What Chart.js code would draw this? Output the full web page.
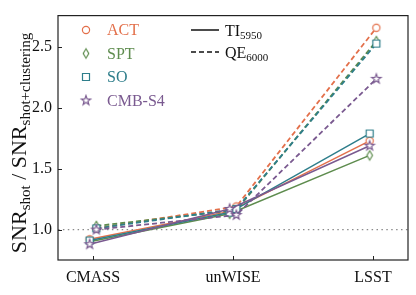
<!DOCTYPE html>
<html><head><meta charset="utf-8">
<script src="https://cdn.jsdelivr.net/npm/chart.js@4/dist/chart.umd.min.js"></script>
<style>html,body{margin:0;padding:0;background:#fff}#wrap{width:416px;height:295px}</style>
</head><body><div id="wrap"><canvas id="c" width="416" height="295"></canvas></div>
<script>
// ---- data ----
const categories = ['CMASS', 'unWISE', 'LSST'];
const experiments = ['ACT', 'SPT', 'SO', 'CMB-S4'];
const actTI = [0.92, 1.15, 1.73];
const actQE = [1.01, 1.19, 2.66];
const sptTI = [0.90, 1.13, 1.61];
const sptQE = [1.03, 1.16, 2.55];
const soTI  = [0.91, 1.14, 1.79];
const soQE  = [1.01, 1.17, 2.53];
const s4TI  = [0.88, 1.17, 1.69];
const s4QE  = [1.00, 1.12, 2.24];
const yTicks = [1.0, 1.5, 2.0, 2.5];

// ---- styles ----
const SERIF = '"Liberation Serif", "DejaVu Serif", serif';
const colors = ['#E3704B', '#5E8C4E', '#2E7E8B', '#7A5A90'];
const markers = ['circle', 'thindiamond', 'square', 'star'];
const tiSeries = [actTI, sptTI, soTI, s4TI];
const qeSeries = [actQE, sptQE, soQE, s4QE];
const xShift = 0.024;

function makeMarker(type, color) {
  const c = document.createElement('canvas');
  c.width = 14; c.height = 14;
  const g = c.getContext('2d');
  g.translate(7, 7);
  g.beginPath();
  if (type === 'circle') {
    g.arc(0, 0, 3.6, 0, Math.PI * 2);
  } else if (type === 'square') {
    g.rect(-3.5, -3.5, 7, 7);
  } else if (type === 'thindiamond') {
    g.moveTo(0, -4.7); g.lineTo(2.8, 0); g.lineTo(0, 4.7); g.lineTo(-2.8, 0); g.closePath();
  } else if (type === 'star') {
    for (let k = 0; k < 10; k++) {
      const r = k % 2 === 0 ? 4.9 : 2.0;
      const a = -Math.PI / 2 + k * Math.PI / 5;
      const px = r * Math.cos(a), py = r * Math.sin(a);
      if (k === 0) g.moveTo(px, py); else g.lineTo(px, py);
    }
    g.closePath();
  }
  g.fillStyle = '#fff';
  g.fill();
  g.lineWidth = 1.2;
  g.strokeStyle = color;
  g.lineJoin = 'miter';
  g.stroke();
  return c;
}
const markerImgs = experiments.map((e, i) => makeMarker(markers[i], colors[i]));

// build datasets (matplotlib plots later ones on top; Chart.js draws index 0 on top)
const datasets = [];
experiments.forEach((e, i) => {
  datasets.push({
    label: e + ' TI', data: tiSeries[i].map((v, k) => ({x: k - xShift, y: v})),
    borderColor: colors[i], borderWidth: 1.5, pointStyle: markerImgs[i], pointRadius: 5,
    fill: false, tension: 0
  });
  datasets.push({
    label: e + ' QE', data: qeSeries[i].map((v, k) => ({x: k + xShift, y: v})),
    borderColor: colors[i], borderWidth: 1.8, borderDash: [5, 3], pointStyle: markerImgs[i], pointRadius: 5,
    fill: false, tension: 0
  });
});
datasets.reverse();

function drawRich(ctx, segs, x, y, align) {
  let total = 0;
  segs.forEach(s => { ctx.font = s.size + 'px ' + SERIF; s.w = ctx.measureText(s.t).width; total += s.w; });
  let cx = align === 'center' ? x - total / 2 : x;
  segs.forEach(s => {
    ctx.font = s.size + 'px ' + SERIF;
    ctx.fillText(s.t, cx, y + (s.dy || 0));
    cx += s.w;
  });
}

const decor = {
  id: 'decor',
  beforeDatasetsDraw(chart) {
    const {ctx, chartArea: a, scales: {y}} = chart;
    const py = y.getPixelForValue(1.0);
    ctx.save();
    ctx.strokeStyle = '#8a8a8a';
    ctx.lineWidth = 1.3;
    ctx.setLineDash([1.5, 3.4]);
    ctx.beginPath(); ctx.moveTo(a.left, py); ctx.lineTo(a.right, py); ctx.stroke();
    ctx.restore();
  },
  afterDraw(chart) {
    const {ctx, chartArea: a, scales: {x, y}} = chart;
    ctx.save();
    // frame
    ctx.strokeStyle = '#222';
    ctx.lineWidth = 1.2;
    ctx.strokeRect(a.left, a.top, a.right - a.left, a.bottom - a.top);
    // inward ticks
    ctx.beginPath();
    yTicks.forEach(v => { const p = Math.round(y.getPixelForValue(v)) + 0.5; ctx.moveTo(a.left, p); ctx.lineTo(a.left + 4, p); });
    categories.forEach((c, i) => { const p = Math.round(x.getPixelForValue(i)) + 0.5; ctx.moveTo(p, a.bottom); ctx.lineTo(p, a.bottom - 4); });
    ctx.lineWidth = 1;
    ctx.stroke();

    // y-axis title with subscripts
    ctx.save();
    ctx.translate(26, 143);
    ctx.rotate(-Math.PI / 2);
    ctx.fillStyle = '#111';
    ctx.textBaseline = 'alphabetic';
    drawRich(ctx, [
      {t: 'SNR', size: 22}, {t: 'shot', size: 15, dy: 4},
      {t: ' / ', size: 22},
      {t: 'SNR', size: 22}, {t: 'shot+clustering', size: 15, dy: 4}
    ], 0, 0, 'center');
    ctx.restore();

    // legend: experiments
    const rows = [30, 53.5, 77, 100.5];
    ctx.textBaseline = 'middle';
    experiments.forEach((e, i) => {
      const img = markerImgs[i];
      ctx.drawImage(img, 86 - img.width / 2, rows[i] - img.height / 2);
      ctx.fillStyle = colors[i];
      ctx.font = '16px ' + SERIF;
      ctx.fillText(e, 107, rows[i] + 1);
    });
    // legend: line styles
    ctx.strokeStyle = '#111';
    ctx.lineWidth = 1.5;
    ctx.beginPath(); ctx.moveTo(191, 30); ctx.lineTo(219, 30); ctx.stroke();
    ctx.setLineDash([5, 3]);
    ctx.lineWidth = 1.6;
    ctx.beginPath(); ctx.moveTo(191, 52); ctx.lineTo(219, 52); ctx.stroke();
    ctx.setLineDash([]);
    ctx.fillStyle = '#111';
    ctx.textBaseline = 'alphabetic';
    drawRich(ctx, [{t: 'TI', size: 16}, {t: '5950', size: 11, dy: 3}], 225, 35.5, 'left');
    drawRich(ctx, [{t: 'QE', size: 16}, {t: '6000', size: 11, dy: 3}], 225, 57.5, 'left');
    ctx.restore();
  }
};

new Chart(document.getElementById('c'), {
  type: 'line',
  data: {datasets},
  options: {
    responsive: false, animation: false,
    layout: {padding: {left: 0, top: 7, right: 8, bottom: 0}},
    plugins: {legend: {display: false}, tooltip: {enabled: false}},
    scales: {
      x: {
        type: 'linear', min: -0.25, max: 2.25,
        afterBuildTicks: s => { s.ticks = categories.map((c, i) => ({value: i})); },
        ticks: {callback: v => categories[v], font: {family: SERIF, size: 16}, color: '#111', padding: 8, maxRotation: 0, autoSkip: false},
        grid: {display: false, drawTicks: false}, border: {display: false},
        afterFit: s => { s.height = 35; }
      },
      y: {
        min: 0.75, max: 2.76,
        afterBuildTicks: s => { s.ticks = yTicks.map(v => ({value: v})); },
        ticks: {callback: v => Number(v).toFixed(1), font: {family: SERIF, size: 16}, color: '#111', padding: 6},
        grid: {display: false, drawTicks: false}, border: {display: false},
        afterFit: s => { s.width = 58; }
      }
    }
  },
  plugins: [decor]
});
</script>
</body></html>
